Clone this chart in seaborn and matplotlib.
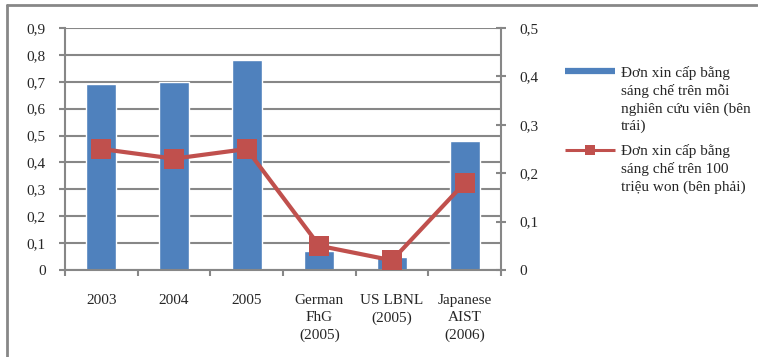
import matplotlib
matplotlib.use("Agg")
import matplotlib.pyplot as plt
import matplotlib.ticker as mticker
from matplotlib.lines import Line2D
import seaborn as sns
import pandas as pd

categories = ["2003", "2004", "2005", "German\nFhG\n(2005)", "US LBNL\n(2005)", "Japanese\nAIST\n(2006)"]
per_researcher = [0.69, 0.70, 0.78, 0.07, 0.05, 0.48]
per_100m_won = [0.25, 0.23, 0.25, 0.05, 0.02, 0.18]
bar_label = "Đơn xin cấp bằng\nsáng chế trên mỗi\nnghiên cứu viên (bên\ntrái)"
line_label = "Đơn xin cấp bằng\nsáng chế trên 100\ntriệu won (bên phải)"

sns.set_theme(style="white")
plt.rcParams["font.family"] = ["Liberation Serif", "DejaVu Serif"]
plt.rcParams["font.size"] = 11

BLUE = "#4F81BD"
RED = "#C0504D"
GREY = "#878787"

df = pd.DataFrame({"cat": categories, "left": per_researcher, "right": per_100m_won})

W, H = 758, 357
fig = plt.figure(figsize=(W / 100, H / 100), dpi=100)
ax = fig.add_axes([65 / W, 1 - 270 / H, (501 - 65) / W, (270 - 28) / H])


def comma_fmt(v, pos):
    return ("%.1f" % v).replace(".", ",") if v > 1e-9 else "0"


sns.barplot(data=df, x="cat", y="left", color=BLUE, saturation=1, width=0.41, ax=ax)
ax.set_ylim(0, 0.9)
ax.set_xlim(-0.5, len(categories) - 0.5)
ax.yaxis.set_major_locator(mticker.MultipleLocator(0.1))
ax.yaxis.set_major_formatter(mticker.FuncFormatter(comma_fmt))
ax.grid(axis="y", color=GREY, linewidth=1.5)
ax.set_axisbelow(True)
ax.set_xlabel("")
ax.set_ylabel("")
for s in ["top", "right"]:
    ax.spines[s].set_visible(False)
for s in ["left", "bottom"]:
    ax.spines[s].set_color(GREY)
    ax.spines[s].set_linewidth(1.5)

# x tick labels centred on categories, tick marks at category boundaries
ax.set_xticks(range(len(categories)))
ax.set_xticklabels(categories, fontsize=11, linespacing=1.45, va="top")
ax.tick_params(axis="x", length=0, pad=17)
ax.set_xticks([i - 0.5 for i in range(len(categories) + 1)], minor=True)
ax.tick_params(axis="x", which="minor", length=4, width=1.5, color=GREY, direction="out", bottom=True)
ax.tick_params(axis="y", length=4, width=1.5, color=GREY, direction="out", left=True, pad=10, labelsize=11)

ax2 = ax.twinx()
sns.lineplot(x=list(range(len(categories))), y=per_100m_won, color=RED, linewidth=3,
             marker="s", markersize=14.5, markeredgewidth=0, ax=ax2)
ax2.set_ylim(0, 0.5)
ax2.yaxis.set_major_locator(mticker.MultipleLocator(0.1))
ax2.yaxis.set_major_formatter(mticker.FuncFormatter(comma_fmt))
ax2.tick_params(axis="y", length=7, width=1.5, color=GREY, direction="inout", right=True, pad=10, labelsize=11)
for s in ["top", "left", "bottom"]:
    ax2.spines[s].set_visible(False)
ax2.spines["right"].set_color(GREY)
ax2.spines["right"].set_linewidth(1.5)


def px(x, y):
    return x / W, 1 - y / H


# legend: handles aligned with the first line of each entry
for (y0, ytext, label, kind) in [(71, 66, bar_label, "bar"), (150, 144, line_label, "line")]:
    (xa, ya), (xb, _) = px(565, y0), px(615, y0)
    if kind == "bar":
        fig.add_artist(Line2D([xa, xb], [ya, ya], transform=fig.transFigure, color=BLUE,
                              linewidth=4.5, solid_capstyle="butt"))
    else:
        fig.add_artist(Line2D([xa, xb], [ya, ya], transform=fig.transFigure, color=RED,
                              linewidth=2.2, solid_capstyle="butt"))
        fig.add_artist(Line2D([(xa + xb) / 2], [ya], transform=fig.transFigure, color=RED,
                              marker="s", markersize=7.5, markeredgewidth=0, linestyle="none"))
    tx, ty = px(621, ytext)
    fig.text(tx, ty, label, fontsize=11, va="top", ha="left", linespacing=1.38)

# chart frame (top and left edges)
fig.add_artist(Line2D([7 / W, 757 / W], [1 - 5 / H, 1 - 5 / H], transform=fig.transFigure, color=GREY, linewidth=2))
fig.add_artist(Line2D([7 / W, 7 / W], [0.0, 1 - 5 / H], transform=fig.transFigure, color=GREY, linewidth=2))

fig.savefig("out.png", dpi=100)
